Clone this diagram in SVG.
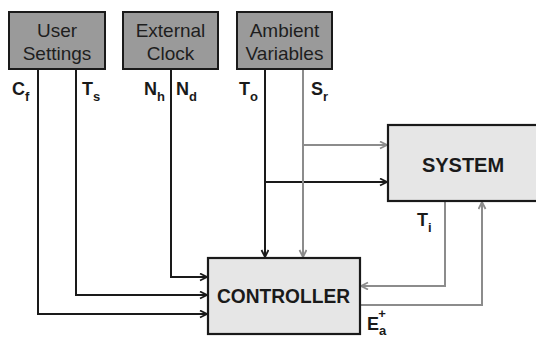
<svg xmlns="http://www.w3.org/2000/svg" width="536" height="337" viewBox="0 0 536 337">
<style>
.src{fill:#9a9a9a;stroke:#1a1a1a;stroke-width:2}
.blk{fill:#e6e6e6;stroke:#1a1a1a;stroke-width:2.2}
.bt{font-family:"Liberation Sans",Arial,sans-serif;font-size:19px;fill:#1e1e1e;text-anchor:middle}
.big{font-family:"Liberation Sans",Arial,sans-serif;font-weight:bold;fill:#1a1a1a;text-anchor:middle}
.lab{font-family:"Liberation Sans",Arial,sans-serif;font-weight:bold;font-size:18px;fill:#1a1a1a}
.sub{font-size:13px}
.k{fill:none;stroke:#1a1a1a;stroke-width:2}
.g{fill:none;stroke:#8c8c8c;stroke-width:2}
</style>
<defs>
<marker id="ak" markerUnits="userSpaceOnUse" markerWidth="10" markerHeight="10" refX="8" refY="4" orient="auto">
<path d="M1,0.5 L8,4 L1,7.5" fill="none" stroke="#1a1a1a" stroke-width="1.8"/>
</marker>
<marker id="ag" markerUnits="userSpaceOnUse" markerWidth="10" markerHeight="10" refX="8" refY="4" orient="auto">
<path d="M1,0.5 L8,4 L1,7.5" fill="none" stroke="#8c8c8c" stroke-width="1.8"/>
</marker>
</defs>
<g id="connectors">
<path class="k" d="M38,69 V314 H207" marker-end="url(#ak)"/>
<path class="k" d="M76,69 V295 H207" marker-end="url(#ak)"/>
<path class="k" d="M171,69 V277 H207" marker-end="url(#ak)"/>
<path class="k" d="M265,69 V257" marker-end="url(#ak)"/>
<path class="k" d="M265,182 H387" marker-end="url(#ak)"/>
<path class="g" d="M303,69 V257" marker-end="url(#ag)"/>
<path class="g" d="M303,145 H387" marker-end="url(#ag)"/>
<path class="g" d="M445,201 V286 H361" marker-end="url(#ag)"/>
<path class="g" d="M361,305 H482 V202" marker-end="url(#ag)"/>
</g>
<g id="user-settings">
<rect class="src" x="9" y="12" width="96" height="57"/>
<text class="bt" x="57" y="37">User</text>
<text class="bt" x="57" y="60">Settings</text>
</g>
<g id="external-clock">
<rect class="src" x="123" y="12" width="95" height="57"/>
<text class="bt" x="170.5" y="37">External</text>
<text class="bt" x="170.5" y="60">Clock</text>
</g>
<g id="ambient-variables">
<rect class="src" x="237" y="12" width="95" height="57"/>
<text class="bt" x="284.5" y="37">Ambient</text>
<text class="bt" x="284.5" y="60">Variables</text>
</g>
<g id="system">
<rect class="blk" x="388" y="125" width="160" height="76"/>
<text class="big" x="463" y="172" font-size="20">SYSTEM</text>
</g>
<g id="controller">
<rect class="blk" x="208" y="258" width="152" height="76"/>
<text class="big" x="283.5" y="303" font-size="21" textLength="133" lengthAdjust="spacingAndGlyphs">CONTROLLER</text>
</g>
<g id="labels">
<text class="lab" x="12" y="95">C<tspan class="sub" dy="6">f</tspan></text>
<text class="lab" x="82" y="95">T<tspan class="sub" dy="6">s</tspan></text>
<text class="lab" x="144" y="95">N<tspan class="sub" dy="6">h</tspan></text>
<text class="lab" x="176" y="95">N<tspan class="sub" dy="6">d</tspan></text>
<text class="lab" x="239" y="95">T<tspan class="sub" dy="6">o</tspan></text>
<text class="lab" x="311" y="95">S<tspan class="sub" dy="6">r</tspan></text>
<text class="lab" x="417" y="226">T<tspan class="sub" dy="6">i</tspan></text>
<text class="lab" x="367" y="330">E<tspan class="sub" dy="5">a</tspan><tspan class="sub" dx="-8" dy="-17">+</tspan></text>
</g>
</svg>
